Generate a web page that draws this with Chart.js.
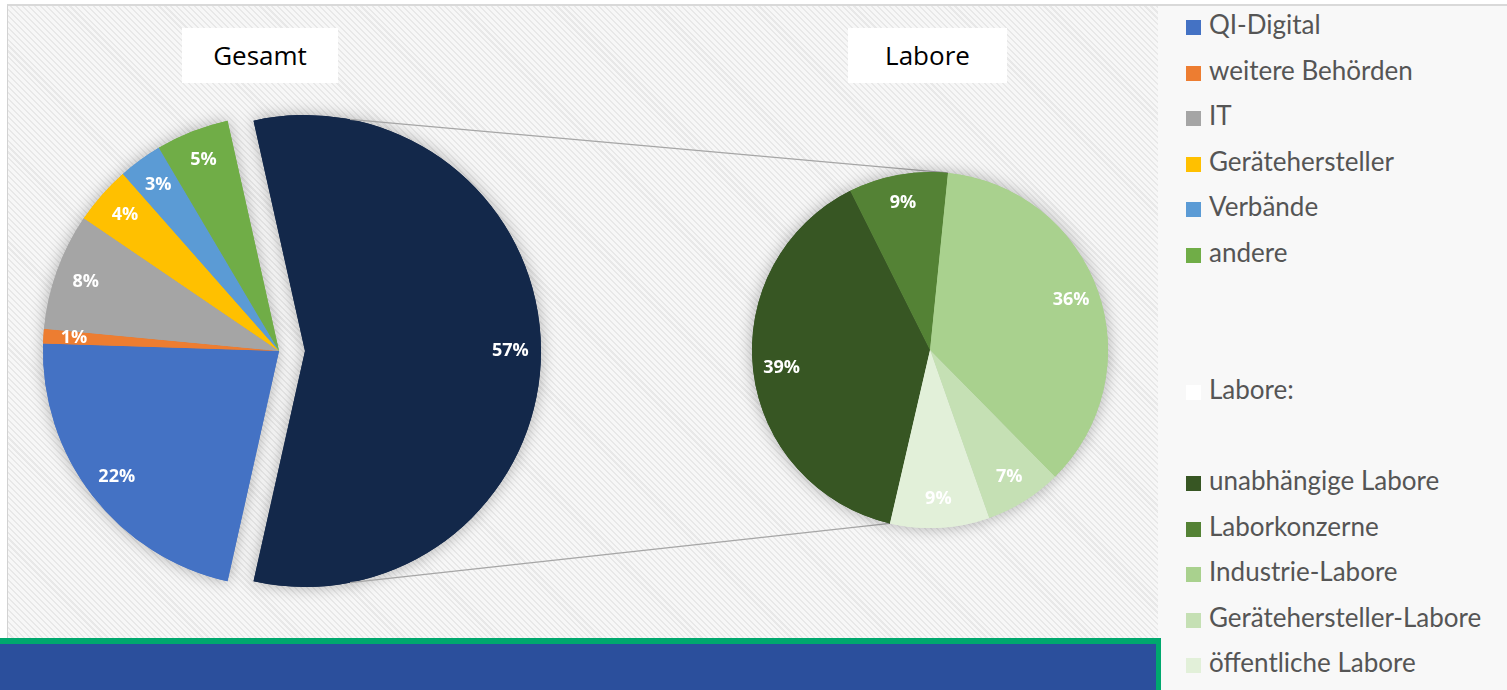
<!DOCTYPE html>
<html>
<head>
<meta charset="utf-8">
<script src="https://cdn.jsdelivr.net/npm/chart.js@4.4.0/dist/chart.umd.min.js"></script>
<style>
body{margin:0;background:#fff;}
#wrap{position:relative;width:1507px;height:690px;overflow:hidden;background:#fff;}
#plot{position:absolute;left:7px;top:4px;width:1150px;height:640px;border-top:2px solid #d9d9d9;border-left:1px solid #d2d2d2;
  background:repeating-linear-gradient(45deg,#e8e8e8 0 1.5px,#f7f7f7 1.5px 4.2px);}
#side{position:absolute;left:1158px;top:4px;width:349px;height:686px;border-top:2px solid #d9d9d9;background:#f8f8f8;}
.layer{position:absolute;left:0;top:0;}
.ttl{position:absolute;top:28px;height:55px;background:#fff;font:26px "Open Sans",sans-serif;line-height:55px;text-align:center;color:#000;}
.leg{position:absolute;left:1186px;height:30px;font:26px Lato,sans-serif;color:#555;line-height:30px;white-space:nowrap;}
.leg i{display:inline-block;width:15px;height:15px;margin-right:8px;vertical-align:-1px;}
#banner{position:absolute;left:0;top:638px;width:1156px;height:60px;background:#2b4f9c;border-top:6px solid #00a86e;border-right:5px solid #00a86e;}
</style>
</head>
<body>
<div id="wrap">
  <div id="plot"></div>
  <div id="side"></div>
  <canvas id="cGesamt" class="layer" width="1160" height="638"></canvas>
  <canvas id="cLabore" class="layer" width="1160" height="638"></canvas>
  <canvas id="cDetail" class="layer" width="1160" height="638"></canvas>
  <div class="ttl" style="left:182px;width:156px">Gesamt</div>
  <div class="ttl" style="left:848px;width:159px">Labore</div>
  <div id="legend"></div>
  <div id="banner"></div>
</div>
<script>
// Gesamt (erste Torte)
const gesamtLabels=["QI-Digital","weitere Behörden","IT","Gerätehersteller","Verbände","andere","Labore"];
const gesamtValues=[22,1,8,4,3,5,57];
const gesamtColors=["#4472c4","#ed7d31","#a5a5a5","#ffc000","#5b9bd5","#70ad47","#13284a"];

// Labore (zweite Torte)
const laborLabels=["unabhängige Labore","Laborkonzerne","Industrie-Labore","Gerätehersteller-Labore","öffentliche Labore"];
const laborValues=[39,9,36,7,9];
const laborColors=["#375623","#548235","#a9d18e","#c5e0b4","#e2f0d9"];

const pieDeco={
  id:'pieDeco',
  beforeDatasetsDraw(chart){
    const ctx=chart.ctx;
    ctx.save();
    ctx.shadowColor='rgba(0,0,0,0.3)';
    ctx.shadowBlur=16;
    chart.getDatasetMeta(0).data.forEach(a=>a.draw(ctx));
    ctx.restore();
  },
  afterDatasetsDraw(chart,args,opts){
    const ctx=chart.ctx;
    const ds=chart.data.datasets[0];
    const total=ds.data.reduce((s,v)=>s+v,0);
    ctx.save();
    ctx.font='bold 18px "Open Sans"';
    ctx.fillStyle='#fff';
    ctx.textAlign='center';
    ctx.textBaseline='middle';
    chart.getDatasetMeta(0).data.forEach((a,i)=>{
      if(ds.backgroundColor[i]==='transparent') return;
      const p=a.getProps(['x','y','startAngle','endAngle','outerRadius'],true);
      const mid=(p.startAngle+p.endAngle)/2;
      const r=p.outerRadius*opts.pos;
      ctx.fillText(Math.round(ds.data[i]/total*100)+'%',p.x+Math.cos(mid)*r,p.y+Math.sin(mid)*r);
    });
    ctx.restore();
  }
};

function pieOpts(pad,radius,rotation,pos){
  return {
    responsive:false,animation:false,events:[],
    rotation:rotation,radius:radius,
    layout:{padding:pad},
    plugins:{legend:{display:false},tooltip:{enabled:false},pieDeco:{pos:pos}}
  };
}

// kleine Segmente
const gesamtChart=new Chart(document.getElementById('cGesamt'),{
  type:'pie',
  data:{labels:gesamtLabels,datasets:[{data:gesamtValues,borderWidth:0,
    backgroundColor:gesamtColors.map((c,i)=>i===6?'transparent':c)}]},
  options:pieOpts({left:0,right:602,top:64,bottom:0},236,192.6,0.87),
  plugins:[pieDeco]
});

// herausgezogenes Segment "Labore"
const labSliceChart=new Chart(document.getElementById('cLabore'),{
  type:'pie',
  data:{labels:gesamtLabels,datasets:[{data:gesamtValues,borderWidth:0,
    backgroundColor:gesamtColors.map((c,i)=>i===6?c:'transparent')}]},
  options:pieOpts({left:0,right:550,top:64,bottom:0},236,192.6,0.87),
  plugins:[pieDeco]
});

const connector={
  id:'connector',
  beforeDatasetsDraw(chart){
    const ctx=chart.ctx;
    const big=labSliceChart.getDatasetMeta(0).data[6];
    const arcs=chart.getDatasetMeta(0).data;
    const a1=arcs[1].endAngle, a2=arcs[0].startAngle;
    const t=11*Math.PI/180;
    ctx.save();
    ctx.strokeStyle='#a6a6a6';
    ctx.lineWidth=1.2;
    ctx.beginPath();
    ctx.moveTo(big.x+big.outerRadius*Math.cos(-Math.PI/2+t),big.y+big.outerRadius*Math.sin(-Math.PI/2+t));
    ctx.lineTo(arcs[1].x+arcs[1].outerRadius*Math.cos(a1),arcs[1].y+arcs[1].outerRadius*Math.sin(a1));
    ctx.moveTo(big.x+big.outerRadius*Math.cos(Math.PI/2-t),big.y+big.outerRadius*Math.sin(Math.PI/2-t));
    ctx.lineTo(arcs[0].x+arcs[0].outerRadius*Math.cos(a2),arcs[0].y+arcs[0].outerRadius*Math.sin(a2));
    ctx.stroke();
    ctx.restore();
  }
};

const laborChart=new Chart(document.getElementById('cDetail'),{
  type:'pie',
  data:{labels:laborLabels,datasets:[{data:laborValues,borderWidth:0,backgroundColor:laborColors}]},
  options:pieOpts({left:700,right:0,top:62,bottom:0},178,193,0.84),
  plugins:[connector,pieDeco]
});

// Legende
const legRows=gesamtLabels.slice(0,6).map((l,i)=>[l,gesamtColors[i]])
  .concat([null,null,["Labore:","#ffffff"],null])
  .concat(laborLabels.map((l,i)=>[l,laborColors[i]]));
const legEl=document.getElementById('legend');
legRows.forEach((row,i)=>{
  if(!row) return;
  const d=document.createElement('div');
  d.className='leg';
  d.style.top=(24+i*45.6-15)+'px';
  d.innerHTML='<i style="background:'+row[1]+'"></i>'+row[0];
  legEl.appendChild(d);
});
</script>
</body>
</html>
